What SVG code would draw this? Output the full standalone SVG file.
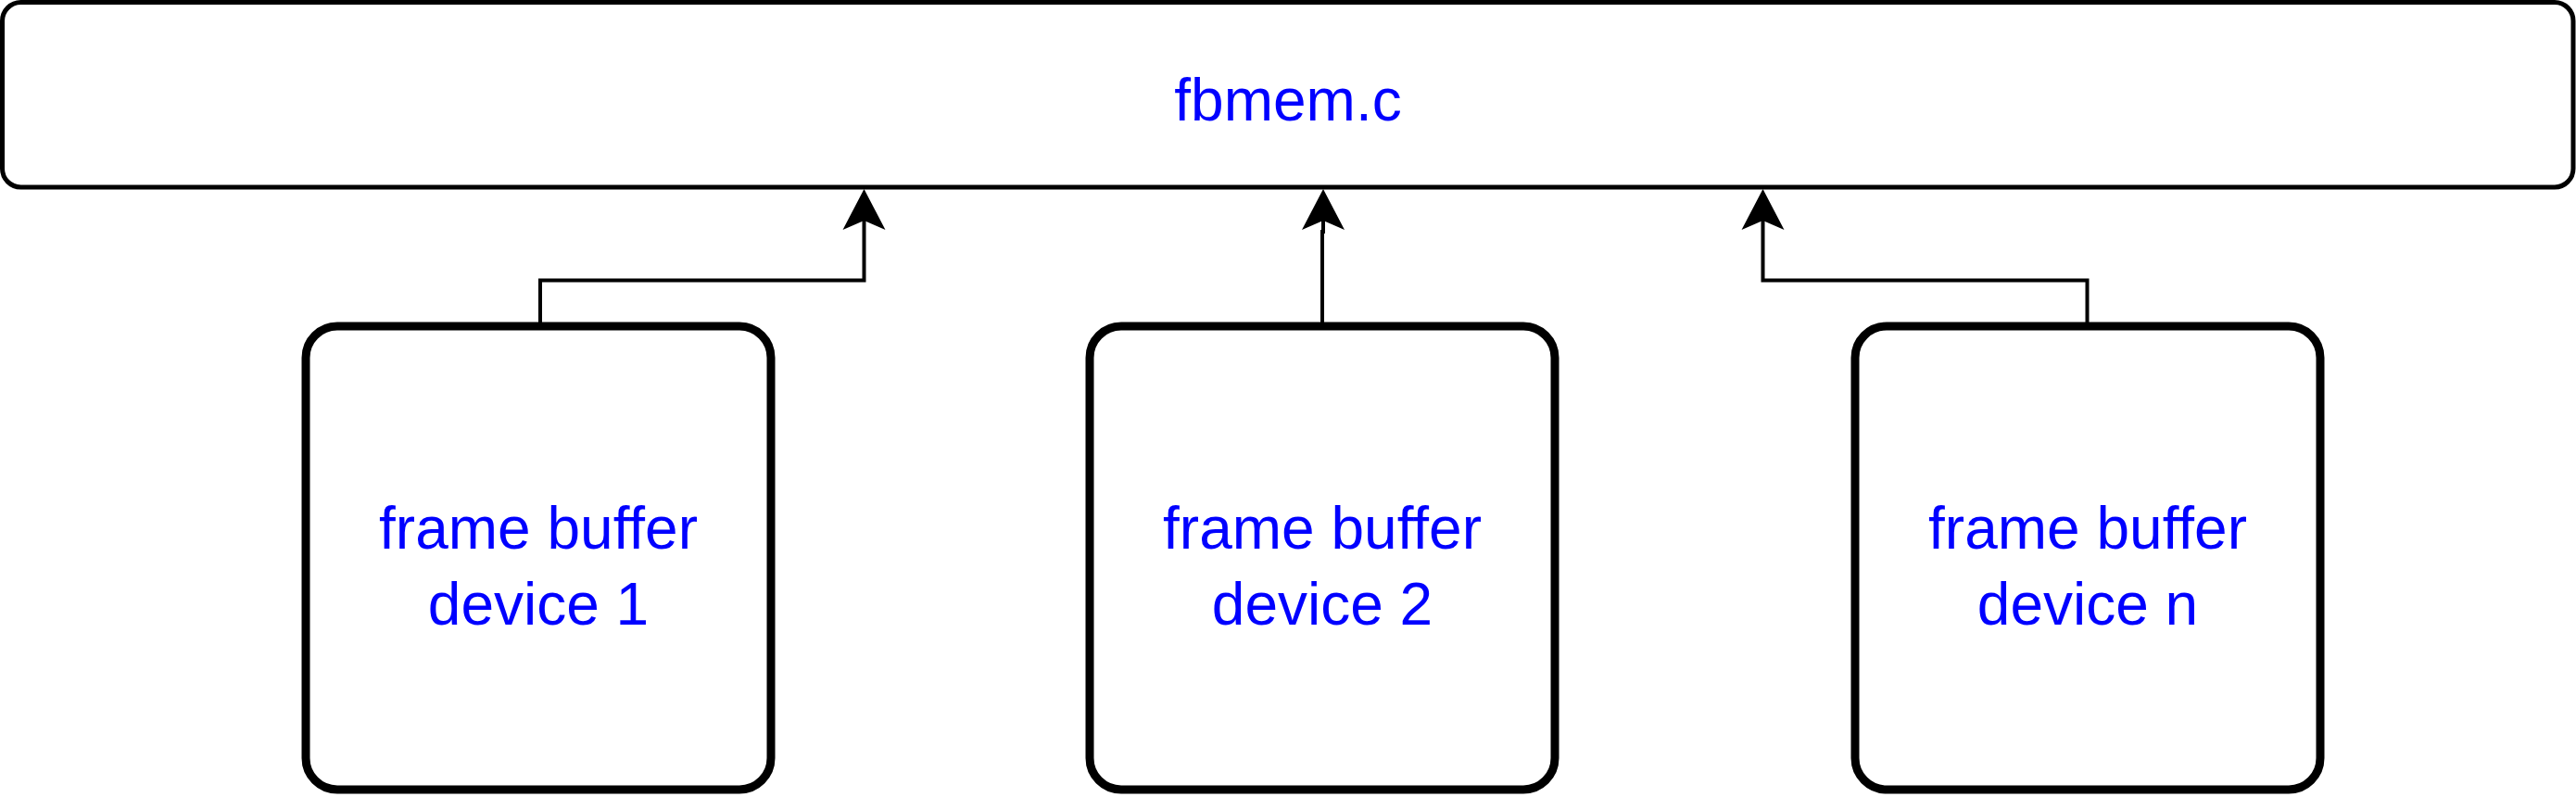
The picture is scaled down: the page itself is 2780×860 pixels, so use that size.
<svg xmlns="http://www.w3.org/2000/svg" width="2780" height="860" viewBox="0 0 2780 860">
  <style>
    .top { fill: #ffffff; stroke: #000000; stroke-width: 5; }
    .dev { fill: #ffffff; stroke: #000000; stroke-width: 9; }
    .lbl { font-family: "Liberation Sans", Arial, sans-serif; font-size: 64px; fill: #0000ff; text-anchor: middle; }
    .conn { fill: none; stroke: #000000; stroke-width: 4; }
  </style>
  <defs>
    <marker id="arrow" markerUnits="userSpaceOnUse" viewBox="-12 -25 48 50" markerWidth="48" markerHeight="50" refX="0" refY="0" orient="auto">
      <path d="M34,0 L-10,-23 L0,0 L-10,23 Z" fill="#000000"/>
    </marker>
  </defs>
  <rect width="2780" height="860" fill="#ffffff"/>

  <g id="fbmem">
    <rect class="top" x="2.5" y="2.5" width="2774.5" height="199.5" rx="20" ry="20"/>
    <text class="lbl" x="1390" y="130">fbmem.c</text>
  </g>

  <g id="device1">
    <rect class="dev" x="330" y="352" width="502" height="500" rx="34" ry="34"/>
    <text class="lbl" x="581" y="592">frame buffer</text>
    <text class="lbl" x="581" y="674">device 1</text>
  </g>

  <g id="device2">
    <rect class="dev" x="1176" y="352" width="502" height="500" rx="34" ry="34"/>
    <text class="lbl" x="1427" y="592">frame buffer</text>
    <text class="lbl" x="1427" y="674">device 2</text>
  </g>

  <g id="devicen">
    <rect class="dev" x="2002" y="352" width="502" height="500" rx="34" ry="34"/>
    <text class="lbl" x="2253" y="592">frame buffer</text>
    <text class="lbl" x="2253" y="674">device n</text>
  </g>

  <g id="connectors">
    <path class="conn" d="M583,348 L583,302.5 L932.5,302.5 L932.5,238" marker-end="url(#arrow)"/>
    <path class="conn" d="M1427,348 L1427,250 L1428,250 L1428,238" marker-end="url(#arrow)"/>
    <path class="conn" d="M2252.5,348 L2252.5,302.5 L1902.5,302.5 L1902.5,238" marker-end="url(#arrow)"/>
  </g>
</svg>
